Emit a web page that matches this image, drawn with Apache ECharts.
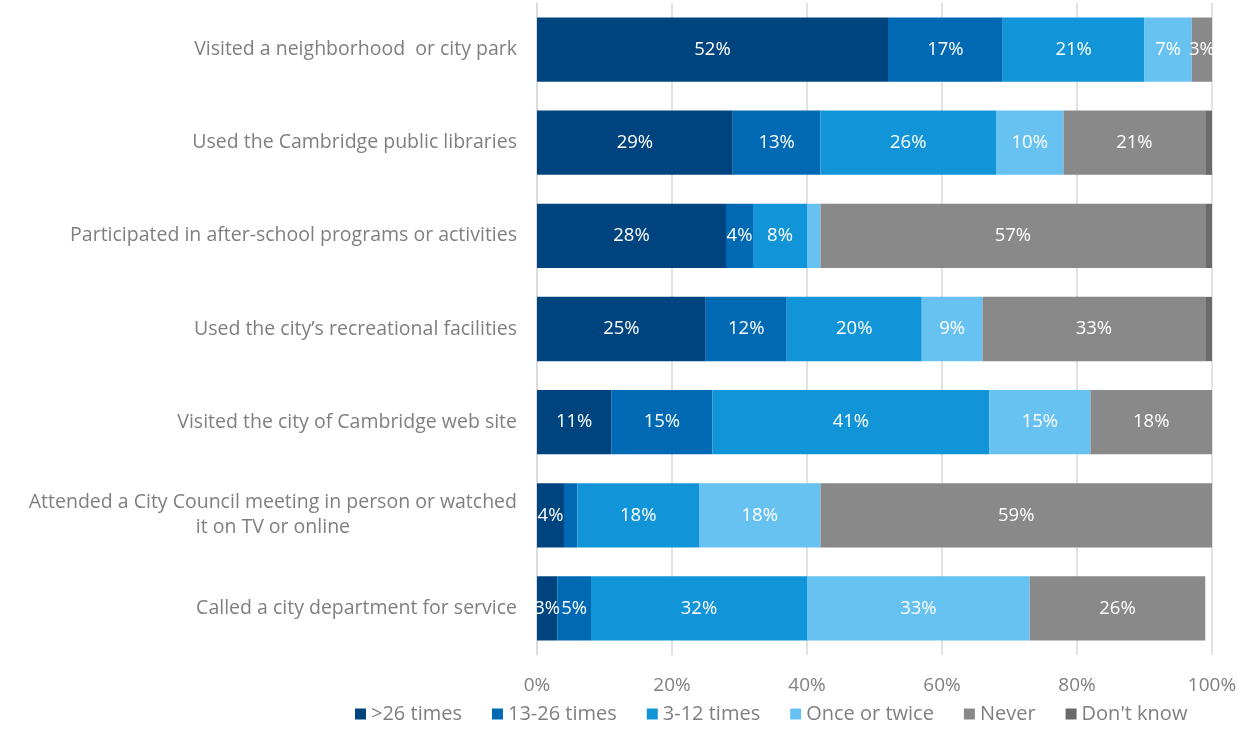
<!DOCTYPE html>
<html>
<head>
<meta charset="utf-8">
<script src="https://cdn.jsdelivr.net/npm/echarts@6/dist/echarts.min.js"></script>
<style>
  html, body { margin: 0; padding: 0; background: #fff; }
  #chart { width: 1250px; height: 730px; }
</style>
</head>
<body>
<div id="chart"></div>
<script>
// categories, top to bottom as drawn
var categories = [
  'Visited a neighborhood  or city park',
  'Used the Cambridge public libraries',
  'Participated in after-school programs or activities',
  'Used the city\u2019s recreational facilities',
  'Visited the city of Cambridge web site',
  'Attended a City Council meeting in person or watched\nit on TV or online',
  'Called a city department for service'
]
var seriesNames = ['>26 times', '13-26 times', '3-12 times', 'Once or twice', 'Never', "Don't know"]
var over26 = [52, 29, 28, 25, 11, 4, 3]
var times13to26 = [17, 13, 4, 12, 15, 2, 5]
var times3to12 = [21, 26, 8, 20, 41, 18, 32]
var onceTwice = [7, 10, 2, 9, 15, 18, 33]
var never = [3, 21, 57, 33, 18, 59, 26]
var dontKnow = [0, 1, 1, 1, 0, 0, 0]
var xTicks = [0, 20, 40, 60, 80, 100]

var colors = ['#00447f', '#0069b4', '#1295d8', '#67c2f2', '#898989', '#6a6a6a']
var font = 'Open Sans'

var chart = echarts.init(document.getElementById('chart'))
var allData = [over26, times13to26, times3to12, onceTwice, never, dontKnow]

var series = seriesNames.map(function (name, i) {
  return {
    name: name,
    type: 'bar',
    stack: 'total',
    barCategoryGap: '31%',
    data: allData[i],
    itemStyle: { color: colors[i] },
    label: {
      show: true,
      color: '#fff',
      fontFamily: font,
      fontSize: 18.5,
      formatter: function (p) { return p.value >= 3 ? p.value + '%' : '' }
    }
  }
})

var option = {
  animation: false,
  color: colors,
  grid: { left: 537, right: 38, top: 3, bottom: 75 },
  legend: {
    left: 350,
    bottom: 1,
    itemWidth: 11,
    itemHeight: 11,
    itemGap: 30,
    icon: 'rect',
    textStyle: { color: '#7f7f7f', fontFamily: font, fontSize: 20 },
    data: seriesNames
  },
  xAxis: {
    type: 'value',
    min: 0,
    max: 100,
    interval: 20,
    axisLine: { show: false },
    axisTick: { show: false },
    splitLine: { lineStyle: { color: '#d9d9d9', width: 1.5 } },
    axisLabel: {
      color: '#7f7f7f',
      fontFamily: font,
      fontSize: 19,
      margin: 21,
      formatter: function (v) { return xTicks.indexOf(v) >= 0 ? v + '%' : '' }
    }
  },
  yAxis: {
    type: 'category',
    inverse: true,
    data: categories,
    axisLine: { show: true, lineStyle: { color: '#d9d9d9', width: 1.5 } },
    axisTick: { show: false },
    axisLabel: {
      color: '#7f7f7f',
      fontFamily: font,
      fontSize: 19.5,
      margin: 20,
      lineHeight: 25,
      formatter: function (v) {
        if (v.indexOf('\n') < 0) return v
        return v.split('\n').map(function (s) { return '{c|' + s + '}' }).join('\n')
      },
      rich: {
        c: { align: 'center', color: '#7f7f7f', fontFamily: font, fontSize: 19.5, lineHeight: 25 }
      }
    }
  },
  series: series
}

chart.setOption(option)
</script>
</body>
</html>
